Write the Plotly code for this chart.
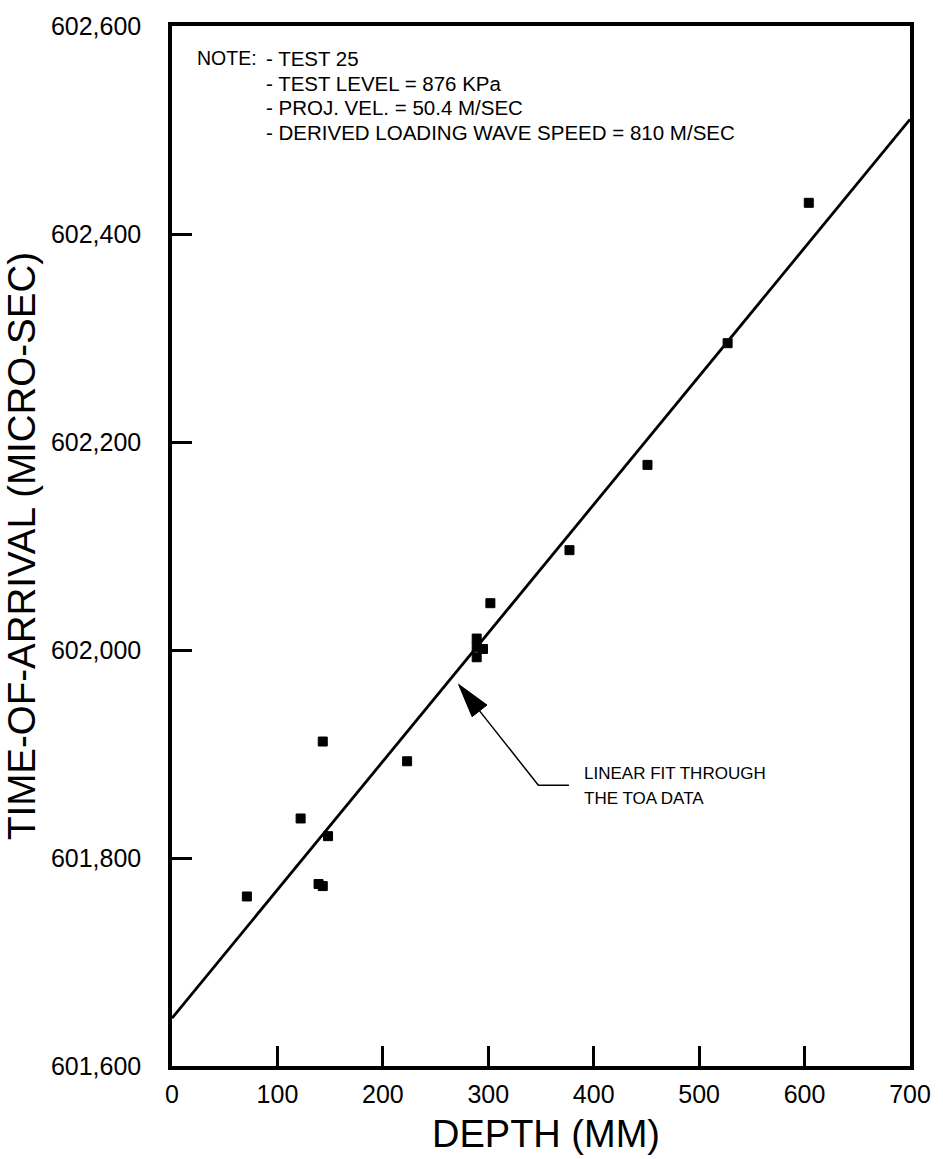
import numpy as np
import plotly.graph_objects as go

# Time-of-arrival measurements versus gauge depth
depth_mm = [71, 122, 143, 139, 143, 148, 223, 289, 295, 289, 289, 302, 377, 451, 527, 604]
toa_us = [601763, 601838, 601912, 601775, 601773, 601821, 601893,
          602011, 602001, 602003, 601993, 602045, 602096, 602178, 602295, 602430]

# Linear fit: intercept and derived loading wave speed
fit_intercept_us = 601646
wave_speed_m_s = 810
fit_depth_mm = [0, 700]
fit_toa_us = [fit_intercept_us + d * 1000.0 / wave_speed_m_s for d in fit_depth_mm]

x_ticks = [0, 100, 200, 300, 400, 500, 600, 700]
y_ticks = [601600, 601800, 602000, 602200, 602400, 602600]

note_label = "NOTE:"
note_lines = [
    "- TEST 25",
    "- TEST LEVEL = 876 KPa",
    "- PROJ. VEL. = 50.4 M/SEC",
    "- DERIVED LOADING WAVE SPEED = 810 M/SEC",
]
fit_label_lines = ["LINEAR FIT THROUGH", "THE TOA DATA"]

FONT = "Liberation Sans, Arial, Helvetica, sans-serif"
W, H = 943, 1159
M = dict(l=172, r=31, t=20, b=93)
X_RANGE = [0, 700]
Y_RANGE = [601600, 602600]

fig = go.Figure()

fig.add_trace(go.Scatter(
    x=fit_depth_mm, y=fit_toa_us, mode="lines",
    line=dict(color="black", width=2.8), showlegend=False, hoverinfo="skip",
))
fig.add_trace(go.Scatter(
    x=depth_mm, y=toa_us, mode="markers",
    marker=dict(symbol="square", size=9, color="black",
                line=dict(color="black", width=1)),
    showlegend=False,
))

# Note block in the upper-left corner
note_y = [602569, 602545, 602522, 602498]
fig.add_annotation(x=21.8, y=note_y[0], xref="x", yref="y", text=note_label,
                   showarrow=False, xanchor="left", yanchor="middle",
                   font=dict(family=FONT, size=19.5, color="black"))
for yv, line in zip(note_y, note_lines):
    fig.add_annotation(x=87, y=yv, xref="x", yref="y", text=line,
                       showarrow=False, xanchor="left", yanchor="middle",
                       font=dict(family=FONT, size=20.5, color="black"))

# Leader arrow pointing at the fit line
tip = np.array([271.8, 601967.0])
kink = np.array([347.5, 601870.0])
end = np.array([376.5, 601870.0])

plot_w = W - M["l"] - M["r"]
plot_h = H - M["t"] - M["b"]
sx = plot_w / (X_RANGE[1] - X_RANGE[0])
sy = plot_h / (Y_RANGE[1] - Y_RANGE[0])

d_px = np.array([(kink[0] - tip[0]) * sx, (kink[1] - tip[1]) * sy])
u = d_px / np.linalg.norm(d_px)
n = np.array([-u[1], u[0]])
head_len, head_half = 34.0, 9.5
base = np.array([tip[0] * sx, tip[1] * sy]) + head_len * u
c1 = base + head_half * n
c2 = base - head_half * n
c1 = (c1[0] / sx, c1[1] / sy)
c2 = (c2[0] / sx, c2[1] / sy)
bmid = (base[0] / sx, base[1] / sy)

fig.add_shape(type="path", xref="x", yref="y",
              path=f"M {tip[0]},{tip[1]} L {c1[0]},{c1[1]} L {c2[0]},{c2[1]} Z",
              fillcolor="black", line=dict(color="black", width=1))
fig.add_shape(type="path", xref="x", yref="y",
              path=f"M {bmid[0]},{bmid[1]} L {kink[0]},{kink[1]} L {end[0]},{end[1]}",
              line=dict(color="black", width=1.5))

fit_label_y = [601881, 601857]
for yv, line in zip(fit_label_y, fit_label_lines):
    fig.add_annotation(x=388.8, y=yv, xref="x", yref="y", text=line,
                       showarrow=False, xanchor="left", yanchor="middle",
                       font=dict(family=FONT, size=17, color="black"))

# x-axis title placed just under the tick labels
fig.add_annotation(x=0.507, y=-0.065, xref="paper", yref="paper",
                   text="DEPTH (MM)", showarrow=False,
                   xanchor="center", yanchor="middle",
                   font=dict(family=FONT, size=38, color="black"))

axis_common = dict(
    showgrid=False, zeroline=False,
    showline=True, mirror=True, linecolor="black", linewidth=3.5,
    ticks="inside", ticklen=20, tickwidth=3, tickcolor="black",
    tickfont=dict(family=FONT, size=25, color="black"),
)

fig.update_xaxes(
    range=X_RANGE, tickmode="array", tickvals=x_ticks,
    ticktext=[str(v) for v in x_ticks], ticklabelstandoff=3,
    **axis_common,
)
fig.update_yaxes(
    range=Y_RANGE, tickmode="array", tickvals=y_ticks,
    ticktext=[f"{v:,}" for v in y_ticks], ticklabelstandoff=22,
    title=dict(text="TIME-OF-ARRIVAL (MICRO-SEC)",
               font=dict(family=FONT, size=38.5, color="black"), standoff=4),
    **axis_common,
)

fig.update_layout(
    width=W, height=H, margin=M,
    paper_bgcolor="white", plot_bgcolor="white",
    font=dict(family=FONT, color="black"),
    showlegend=False,
)

fig.write_html("out.html")
